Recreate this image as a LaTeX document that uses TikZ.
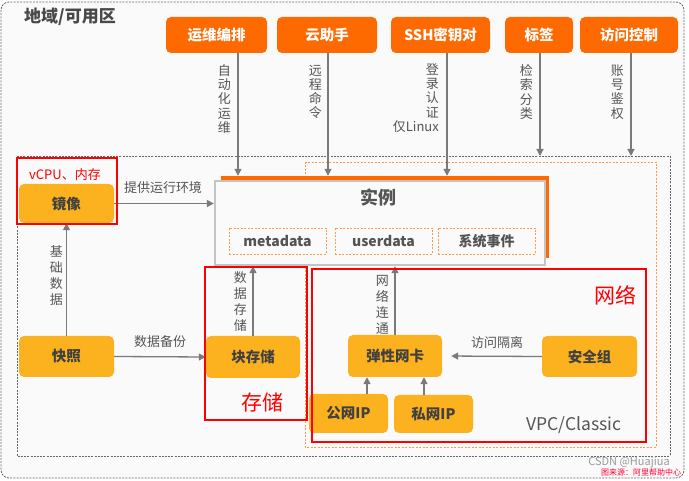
\documentclass[tikz,border=0pt]{standalone}
\usepackage{fontspec}
\setmainfont{Noto Sans CJK SC}
\usetikzlibrary{arrows.meta,calc}
\definecolor{aliorange}{HTML}{FF6A00}
\definecolor{boxyellow}{HTML}{FCB11E}
\definecolor{txtgray}{HTML}{404040}
\definecolor{lblgray}{HTML}{555555}
\definecolor{arrgray}{HTML}{7A7A7A}
\definecolor{instborder}{HTML}{C4C4C4}
\definecolor{bggray}{HTML}{FAFAFA}
\tikzset{
  topbox/.style={fill=aliorange, rounded corners=5pt, text=white, inner sep=0pt,
    font=\bfseries\fontsize{14.5}{16}\selectfont, minimum height=36pt},
  ybox/.style={fill=boxyellow, rounded corners=5pt, text=txtgray, inner sep=0pt,
    font=\bfseries\fontsize{14.5}{16}\selectfont},
  arr/.style={draw=arrgray, line width=1.3pt, -{Triangle[width=7pt,length=7pt]}},
  lbl/.style={text=lblgray, inner sep=0pt, font=\fontsize{13}{15}\selectfont},
  vlbl/.style={text=lblgray, inner sep=0pt, align=center, font=\fontsize{13}{14.2}\selectfont},
  vlblb/.style={text=lblgray, inner sep=0pt, align=center, font=\fontsize{13}{16}\selectfont},
  redbox/.style={draw=red, line width=2pt},
  odash/.style={draw=aliorange!70, dash pattern=on 2pt off 1.5pt, line width=0.9pt},
  gdash/.style={draw=gray!80!black, dash pattern=on 2pt off 1.2pt, line width=0.8pt},
  inbox/.style={odash, fill=bggray, inner sep=0pt, minimum width=97pt, minimum height=26pt,
    text=txtgray!90, font=\bfseries\fontsize{14}{16}\selectfont},
}
\begin{document}
\begin{tikzpicture}[x=1pt,y=-1pt]
\useasboundingbox (0,0) rectangle (689,481);
\fill[white] (0,0) rectangle (689,481);
% outer region
\draw[gdash, fill=bggray, rounded corners=8pt] (1,2) rectangle (684,478);
\node[anchor=center, text=txtgray!95, font=\bfseries\fontsize{17}{19}\selectfont, inner sep=0pt] (title) at (70,17) {地域/可用区};
% zone
\draw[gdash] (17,156) rectangle (670,456);
\coordinate (zonetop) at (17,156);
% VPC
\draw[odash] (305,162) rectangle (656,447);

% top boxes
\node[topbox, minimum width=101pt] (yw) at (216.5,35) {运维编排};
\node[topbox, minimum width=100pt] (yz) at (327,35) {云助手};
\node[topbox, minimum width=99pt] (ssh) at (440.5,35) {SSH密钥对};
\node[topbox, minimum width=68pt] (bq) at (539,35) {标签};
\node[topbox, minimum width=98pt] (fw) at (629,35) {访问控制};

% instance
\node[fill=aliorange, minimum width=328pt, minimum height=82pt, inner sep=0pt] (instbk) at (385,217) {};
\node[draw=instborder, line width=2.4pt, fill=bggray, minimum width=330pt, minimum height=84pt, inner sep=0pt] (inst) at (380,223) {};
\node[text=lblgray, font=\bfseries\fontsize{18}{20}\selectfont, inner sep=0pt] (insttxt) at (378,198) {实例};
\node[inbox] (meta) at (277.5,241) {metadata};
\node[inbox] (user) at (383.5,241) {userdata};
\node[inbox] (evt) at (486.5,241) {系统事件};

% top arrows
\draw[arr] ([xshift=21.5pt]yw.south) -- ([xshift=21.5pt]yw.south |- instbk.north);
\draw[arr] ([xshift=1pt]yz.south) -- ([xshift=1pt]yz.south |- instbk.north);
\draw[arr] ([xshift=6.5pt]ssh.south) -- ([xshift=6.5pt]ssh.south |- instbk.north);
\draw[arr] ([xshift=1pt]bq.south) -- ([xshift=1pt]bq.south |- zonetop);
\draw[arr] ([xshift=2pt]fw.south) -- ([xshift=2pt]fw.south |- zonetop);
\node[vlbl, anchor=east] (l1) at (231,99) {自\\动\\化\\运\\维};
\node[vlbl, anchor=east] (l2) at (322,92) {远\\程\\命\\令};
\node[vlbl, anchor=east, align=right] (l3) at (439,98) {登\\录\\认\\证\\仅Linux};
\node[vlbl, anchor=east] (l4) at (533,92) {检\\索\\分\\类};
\node[vlbl, anchor=east] (l5) at (624,92) {账\\号\\鉴\\权};

% yellow boxes
\node[ybox, minimum width=95pt, minimum height=39pt] (jx) at (66.5,203.5) {镜像};
\node[ybox, minimum width=95pt, minimum height=41pt] (kz) at (66.5,356.5) {快照};
\node[ybox, minimum width=94pt, minimum height=42pt] (kcc) at (253,357) {块存储};
\node[ybox, minimum width=94pt, minimum height=42pt] (eni) at (395,356) {弹性网卡};
\node[ybox, minimum width=95pt, minimum height=41pt] (sg) at (589.5,356.5) {安全组};
\node[ybox, minimum width=79pt, minimum height=39pt] (gw) at (348.5,413.5) {公网IP};
\node[ybox, minimum width=79pt, minimum height=38pt] (sw) at (433.5,414) {私网IP};

% arrows
\draw[arr] (jx.east) -- (jx.east -| inst.west);
\node[lbl] (t1) at (163,188) {提供运行环境};
\draw[arr] (kz.north) -- (jx.south);
\node[vlblb, anchor=east] (t2) at (63,276) {基\\础\\数\\据};
\draw[arr] (kz.east) -- (kcc.west);
\node[lbl] (t3) at (160,342) {数据备份};
\draw[arr] (kcc.north) -- (kcc.north |- inst.south);
\node[vlblb, anchor=east] (t4) at (247,302) {数\\据\\存\\储};
\draw[arr] (eni.north) -- (eni.north |- inst.south);
\node[vlblb, anchor=east] (t5) at (389,305) {网\\络\\连\\通};
\draw[arr, shorten >=9pt] (sg.west) -- (eni.east);
\node[lbl] (t6) at (497,343) {访问隔离};
\draw[arr] ([xshift=18.5pt]gw.north) -- ([xshift=18.5pt]gw.north |- eni.south);
\draw[arr] ([xshift=-9.5pt]sw.north) -- ([xshift=-9.5pt]sw.north |- eni.south);

\node[text=lblgray, inner sep=0pt, font=\fontsize{17.5}{19}\selectfont] (vpc) at (574,425) {VPC/Classic};

% red annotations
\draw[redbox] (17,158) rectangle (117,224);
\node[text=red, inner sep=0pt, font=\fontsize{13}{15}\selectfont] (r1) at (65,175) {vCPU、内存};
\draw[redbox] (205,267) rectangle (307,420);
\node[text=red, inner sep=0pt, font=\fontsize{21}{23}\selectfont] (r2) at (262,402) {存储};
\draw[redbox] (312,269) rectangle (646,442);
\node[text=red, inner sep=0pt, font=\fontsize{21}{23}\selectfont] (r3) at (615,295) {网络};

% watermark
\node[text=gray!80, inner sep=0pt, font=\fontsize{11}{13}\selectfont] (wm1) at (629,463) {CSDN @Huajiua};
\node[text=red!80!magenta, inner sep=0pt, font=\fontsize{8}{9}\selectfont] (wm2) at (641,472) {图来源：阿里帮助中心};
\end{tikzpicture}
\end{document}
